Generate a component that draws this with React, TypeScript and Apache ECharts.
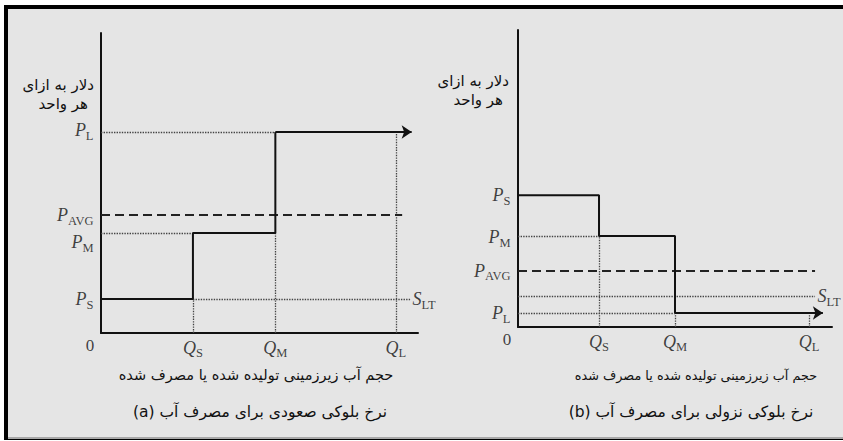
import React, { useEffect, useRef } from "react";
import * as echarts from "echarts";

// ---------- Panel (a): ascending block rate ----------
const qNamesA = ["S", "M", "L"];
const qValuesA = [29, 55, 93];
const pNamesA = ["S", "M", "L"];
const pValuesA = [11.3, 33.3, 67];
const pAvgA = [39.3];
const sLtA = [11.3];
const arrowEndA = [98];
const dashEndA = [95];
const sLtEndA = [97.5];

// ---------- Panel (b): descending block rate ----------
const qNamesB = ["S", "M", "L"];
const qValuesB = [25.8, 50, 92.7];
const pNamesB = ["S", "M", "L"];
const pValuesB = [44.4, 30.6, 4.7];
const pAvgB = [18.9];
const sLtB = [10.4];
const arrowEndB = [97.1];
const dashEndB = [94.6];
const sLtEndB = [94.6];

// ---------- Texts ----------
const yTitle = ["دلار به ازای", "هر واحد"];
const xTitle = "حجم آب زیرزمینی تولیده شده یا مصرف شده";
const captionA = "(a) نرخ بلوکی صعودی برای مصرف آب";
const captionB = "(b) نرخ بلوکی نزولی برای مصرف آب";

const INK = "#111";
const DOT = "#444";
const SERIF = "'Liberation Serif', 'Times New Roman', serif";
const FA = "'DejaVu Sans', sans-serif";

const rich = {
  p: { fontFamily: SERIF, fontStyle: "italic", fontSize: 18, color: INK, lineHeight: 24 },
  s: { fontFamily: SERIF, fontSize: 12.5, color: INK, lineHeight: 16, verticalAlign: "bottom" },
  z: { fontFamily: SERIF, fontSize: 17, color: INK, lineHeight: 24 },
};

function lbl(letter: string, sub: string) {
  return `{p|${letter}}{s|${sub}}`;
}

function buildPanel(
  idx: number,
  qv: number[],
  qn: string[],
  pv: number[],
  pn: string[],
  pAvg: number,
  sLt: number,
  arrowEnd: number,
  dashEnd: number,
  sLtEnd: number,
  ascending: boolean
) {
  const [QS, QM, QL] = qv;
  const [PS, PM, PL] = pv;
  const step = [
    [0, PS],
    [QS, PS],
    [QS, PM],
    [QM, PM],
    [QM, PL],
  ];
  const dotted: number[][][] = ascending
    ? [
        [[0, PL], [QM, PL]],
        [[0, PM], [QS, PM]],
        [[QS, sLt], [sLtEnd, sLt]],
        [[QS, 0], [QS, PS]],
        [[QM, 0], [QM, PM]],
        [[QL, 0], [QL, PL]],
      ]
    : [
        [[0, PM], [QS, PM]],
        [[QS, 0], [QS, PM]],
        [[0, sLt], [sLtEnd, sLt]],
        [[0, PL], [QM, PL]],
        [[QM, 0], [QM, PL]],
        [[QL, 0], [QL, PL]],
      ];

  const yLabels = [
    { value: [0, PS], text: lbl("P", pn[0]) },
    { value: [0, PM], text: lbl("P", pn[1]), off: ascending ? [0, 9] : [0, 1] },
    { value: [0, PL], text: lbl("P", pn[2]), off: ascending ? [0, -2] : [0, 0] },
    { value: [0, pAvg], text: lbl("P", "AVG") },
  ];
  const xLabels = qv.map((q, i) => ({ value: [q, 0], text: lbl("Q", qn[i]) }));

  const common = { xAxisIndex: idx, yAxisIndex: idx, silent: true };
  const hidden = { color: "rgba(0,0,0,0)", borderWidth: 0 };
  return [
    {
      ...common,
      type: "line",
      data: step,
      showSymbol: false,
      lineStyle: { color: INK, width: 2 },
      z: 5,
    },
    {
      ...common,
      type: "lines",
      coordinateSystem: "cartesian2d",
      data: [{ coords: [[QM, PL], [arrowEnd, PL]] }],
      symbol: ["none", "arrow"],
      symbolSize: 10,
      lineStyle: { color: INK, width: 2, opacity: 1 },
      z: 5,
    },
    {
      ...common,
      type: "lines",
      coordinateSystem: "cartesian2d",
      data: dotted.map((c) => ({ coords: c })),
      lineStyle: { color: DOT, width: 1.3, type: [1.4, 1.2], opacity: 1 },
      z: 3,
    },
    {
      ...common,
      type: "lines",
      coordinateSystem: "cartesian2d",
      data: [{ coords: [[0, pAvg], [dashEnd, pAvg]] }],
      lineStyle: { color: "#222", width: 2, type: [9, 5], opacity: 1 },
      z: 3,
    },
    {
      ...common,
      type: "scatter",
      symbolSize: 1,
      itemStyle: hidden,
      z: 6,
      data: yLabels.map((d) => ({
        value: d.value,
        label: {
          show: true,
          position: "left",
          distance: 7,
          offset: d.off || [0, 0],
          formatter: d.text,
          rich,
        },
      })),
    },
    {
      ...common,
      type: "scatter",
      symbolSize: 1,
      itemStyle: hidden,
      z: 6,
      data: [
        ...xLabels.map((d) => ({
          value: d.value,
          label: { show: true, position: "bottom", distance: 2, formatter: d.text, rich },
        })),
        {
          value: [0, 0],
          label: {
            show: true,
            position: "bottom",
            distance: ascending ? 0 : 0,
            offset: [-11, 0],
            formatter: "{z|0}",
            rich,
          },
        },
        {
          value: [sLtEnd, sLt],
          label: {
            show: true,
            position: "right",
            distance: 2,
            formatter: lbl("S", "LT"),
            rich,
          },
        },
      ],
    },
  ];
}

export default function App() {
  const ref = useRef<HTMLDivElement>(null);
  useEffect(() => {
    if (!ref.current) return;
    const chart = echarts.init(ref.current, undefined, { renderer: "svg" });
    const axisX = (gi: number) => ({
      type: "value",
      gridIndex: gi,
      min: 0,
      max: 100,
      axisLine: { show: true, lineStyle: { color: INK, width: 2 } },
      axisTick: { show: false },
      axisLabel: { show: false },
      splitLine: { show: false },
    });
    const axisY = (gi: number) => ({
      type: "value",
      gridIndex: gi,
      min: 0,
      max: 100,
      axisLine: { show: true, lineStyle: { color: INK, width: 2 } },
      axisTick: { show: false },
      axisLabel: { show: false },
      splitLine: { show: false },
    });
    const faText = (x: number, y: number, text: string, align: string, size = 14.5) => ({
      type: "text",
      x,
      y,
      z: 10,
      style: {
        text,
        fill: INK,
        font: `${size}px ${FA}`,
        align,
        verticalAlign: "middle",
      },
    });
    const option = {
      animation: false,
      backgroundColor: "#ffffff",
      grid: [
        { left: 101, top: 33, width: 317, height: 300 },
        { left: 518, top: 30, width: 314, height: 297 },
      ],
      xAxis: [axisX(0), axisX(1)],
      yAxis: [axisY(0), axisY(1)],
      graphic: [
        { type: "rect", z: -10, shape: { x: 4, y: 5, width: 839, height: 435 }, style: { fill: "#000" } },
        { type: "rect", z: -9, shape: { x: 8, y: 9, width: 835, height: 429 }, style: { fill: "#e5e5e5" } },
        { type: "rect", z: -8, shape: { x: 8, y: 437, width: 835, height: 2 }, style: { fill: "#a8a8a8" } },
        faText(94, 85, yTitle[0], "right", 15),
        faText(88, 104, yTitle[1], "right", 15),
        faText(509, 81, yTitle[0], "right", 15),
        faText(503, 100, yTitle[1], "right", 15),
        faText(256, 375, xTitle, "center", 14.5),
        faText(696, 375, xTitle, "center", 12.8),
        faText(260, 412, captionA, "center", 15.5),
        faText(691, 412, captionB, "center", 15.5),
      ],
      series: [
        ...buildPanel(0, qValuesA, qNamesA, pValuesA, pNamesA, pAvgA[0], sLtA[0], arrowEndA[0], dashEndA[0], sLtEndA[0], true),
        ...buildPanel(1, qValuesB, qNamesB, pValuesB, pNamesB, pAvgB[0], sLtB[0], arrowEndB[0], dashEndB[0], sLtEndB[0], false),
      ],
    };
    chart.setOption(option as any);
    return () => chart.dispose();
  }, []);
  return (
    <div
      ref={ref}
      style={{ position: "absolute", left: 0, top: 0, width: 843, height: 441 }}
    />
  );
}
